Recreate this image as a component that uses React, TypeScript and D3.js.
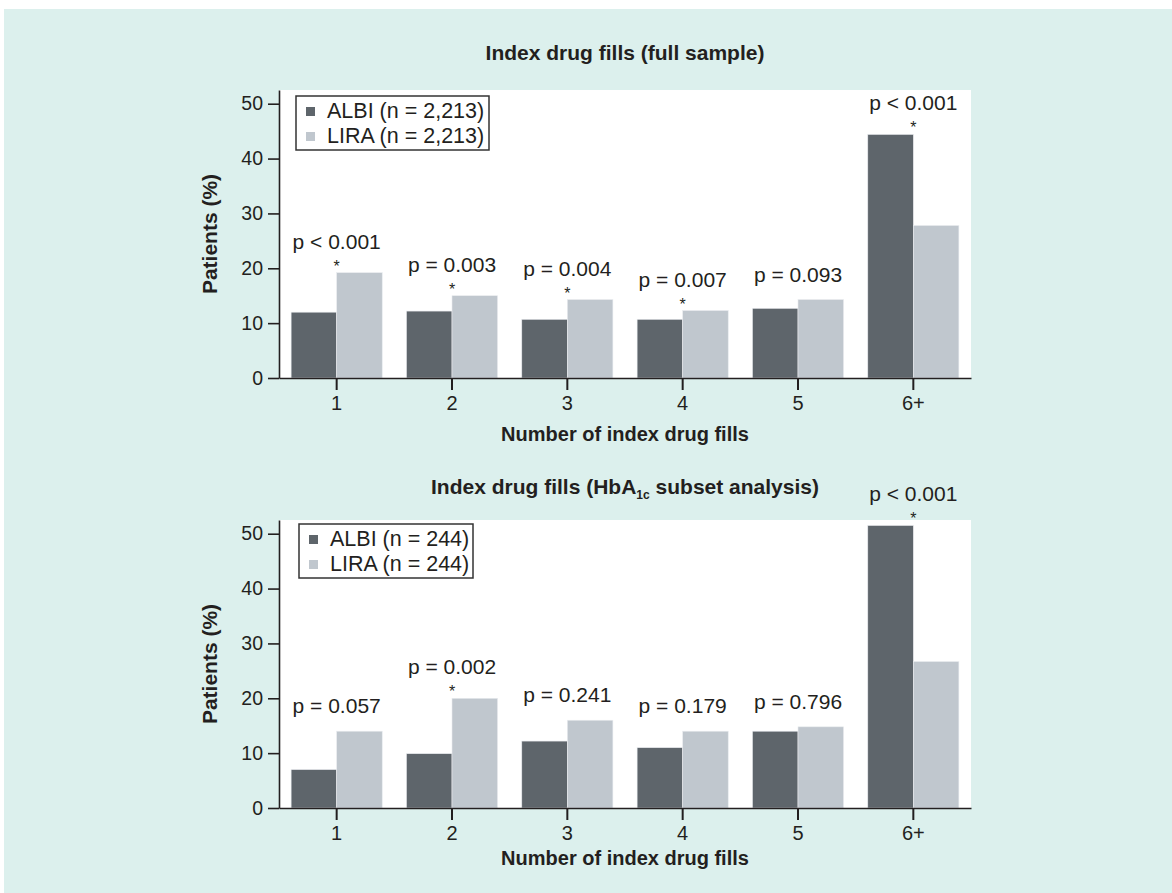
import React, { useEffect, useRef } from 'react';
import * as d3 from 'd3';

const categories = ['1', '2', '3', '4', '5', '6+'];
const seriesNames = ['ALBI', 'LIRA'];

const fullAlbi = [12.0, 12.2, 10.7, 10.7, 12.7, 44.4];
const fullLira = [19.2, 15.0, 14.3, 12.3, 14.3, 27.8];
const fullPValues = ['p < 0.001', 'p = 0.003', 'p = 0.004', 'p = 0.007', 'p = 0.093', 'p < 0.001'];
const fullSignificant = [true, true, true, true, false, true];
const fullLegend = ['ALBI (n = 2,213)', 'LIRA (n = 2,213)'];

const subsetAlbi = [7.0, 9.9, 12.2, 11.0, 14.0, 51.5];
const subsetLira = [14.0, 20.0, 16.0, 14.0, 14.8, 26.7];
const subsetPValues = ['p = 0.057', 'p = 0.002', 'p = 0.241', 'p = 0.179', 'p = 0.796', 'p < 0.001'];
const subsetSignificant = [false, true, false, false, false, true];
const subsetLegend = ['ALBI (n = 244)', 'LIRA (n = 244)'];

const yTicks = [0, 10, 20, 30, 40, 50];

const FONT = '"Liberation Sans", Arial, Helvetica, sans-serif';
const INK = '#231f20';
const COLORS = ['#5e656b', '#c0c7ce'];

interface Panel {
  albi: number[];
  lira: number[];
  pValues: string[];
  significant: boolean[];
  legend: string[];
  top: number;
  bottom: number;
  titleY: number;
  xTitleY: number;
  legendBox: { x: number; y: number; w: number; h: number };
  subset: boolean;
}

const App: React.FC = () => {
  const svgRef = useRef<SVGSVGElement>(null);

  useEffect(() => {
    if (!svgRef.current) return;
    const svg = d3.select(svgRef.current);
    svg.selectAll('*').remove();

    svg.append('rect')
      .attr('x', 4).attr('y', 9)
      .attr('width', 1168).attr('height', 884)
      .attr('fill', '#dcf0ed');

    const left = 279;
    const right = 971;

    const drawPanel = (p: Panel) => {
      const g = svg.append('g').attr('font-family', FONT).attr('fill', INK);

      g.append('rect')
        .attr('x', left).attr('y', p.top)
        .attr('width', right - left).attr('height', p.bottom - p.top)
        .attr('fill', '#fff');

      const x = d3.scaleBand<string>()
        .domain(categories)
        .range([left, right])
        .paddingInner(0.21)
        .paddingOuter(0.105);

      const xSub = d3.scaleBand<string>()
        .domain(seriesNames)
        .range([0, x.bandwidth()]);

      const y = d3.scaleLinear()
        .domain([0, 52.5])
        .range([p.bottom, p.top]);

      const rows = categories.map((c, i) => ({ c, i, values: [p.albi[i], p.lira[i]] }));

      // bars
      rows.forEach(r => {
        r.values.forEach((v, k) => {
          g.append('rect')
            .attr('x', (x(r.c) as number) + (xSub(seriesNames[k]) as number))
            .attr('y', y(v))
            .attr('width', xSub.bandwidth())
            .attr('height', y(0) - y(v))
            .attr('fill', COLORS[k])
            .attr('stroke', '#e9ecef')
            .attr('stroke-width', 0.6);
        });
      });

      // p-values and asterisks
      rows.forEach(r => {
        const cx = (x(r.c) as number) + x.bandwidth() / 2;
        const barTop = y(d3.max(r.values) as number);
        const sig = p.significant[r.i];
        g.append('text')
          .attr('x', cx)
          .attr('y', barTop - (sig ? 24 : 18))
          .attr('text-anchor', 'middle')
          .attr('font-size', 21)
          .text(p.pValues[r.i]);
        if (sig) {
          g.append('text')
            .attr('x', cx)
            .attr('y', barTop - 1)
            .attr('text-anchor', 'middle')
            .attr('font-size', 16)
            .text('*');
        }
      });

      // axes
      const xAxis = g.append('g')
        .attr('transform', `translate(0,${p.bottom})`)
        .call(d3.axisBottom(x).tickSize(12).tickSizeOuter(0).tickPadding(6));
      xAxis.select('.domain').attr('stroke', INK).attr('stroke-width', 1.6);
      xAxis.selectAll('.tick line').attr('stroke', INK).attr('stroke-width', 2);
      xAxis.selectAll('.tick text')
        .attr('font-family', FONT).attr('font-size', 20).attr('fill', INK);

      const yAxis = g.append('g')
        .attr('transform', `translate(${left},0)`)
        .call(d3.axisLeft(y).tickValues(yTicks).tickSize(11).tickSizeOuter(0).tickPadding(5));
      yAxis.select('.domain').attr('stroke', INK).attr('stroke-width', 1.6);
      yAxis.selectAll('.tick line').attr('stroke', INK).attr('stroke-width', 1.6);
      yAxis.selectAll('.tick text')
        .attr('font-family', FONT).attr('font-size', 19.5).attr('fill', INK);

      // titles
      const cxPlot = (left + right) / 2;
      const title = g.append('text')
        .attr('x', cxPlot).attr('y', p.titleY)
        .attr('text-anchor', 'middle')
        .attr('font-size', 21).attr('font-weight', 'bold');
      if (p.subset) {
        title.append('tspan').text('Index drug fills (HbA');
        title.append('tspan').attr('font-size', 12).attr('dy', 5).text('1c');
        title.append('tspan').attr('dy', -5).text(' subset analysis)');
      } else {
        title.text('Index drug fills (full sample)');
      }

      g.append('text')
        .attr('x', cxPlot).attr('y', p.xTitleY)
        .attr('text-anchor', 'middle')
        .attr('font-size', 20).attr('font-weight', 'bold')
        .text('Number of index drug fills');

      g.append('text')
        .attr('transform', `translate(217,${(p.top + p.bottom) / 2}) rotate(-90)`)
        .attr('text-anchor', 'middle')
        .attr('font-size', 21).attr('font-weight', 'bold')
        .text('Patients (%)');

      // legend
      const lb = p.legendBox;
      g.append('rect')
        .attr('x', lb.x).attr('y', lb.y)
        .attr('width', lb.w).attr('height', lb.h)
        .attr('fill', '#fff')
        .attr('stroke', '#333').attr('stroke-width', 1.5);
      p.legend.forEach((label, k) => {
        const rowY = lb.y + 22 + k * 25;
        g.append('rect')
          .attr('x', lb.x + 10).attr('y', rowY - 11)
          .attr('width', 9).attr('height', 9)
          .attr('fill', COLORS[k]);
        g.append('text')
          .attr('x', lb.x + 31).attr('y', rowY)
          .attr('font-size', 21.5)
          .text(label);
      });
    };

    drawPanel({
      albi: fullAlbi, lira: fullLira, pValues: fullPValues, significant: fullSignificant,
      legend: fullLegend, top: 90, bottom: 378, titleY: 60, xTitleY: 441,
      legendBox: { x: 296, y: 96, w: 193, h: 54 }, subset: false,
    });
    drawPanel({
      albi: subsetAlbi, lira: subsetLira, pValues: subsetPValues, significant: subsetSignificant,
      legend: subsetLegend, top: 520, bottom: 808, titleY: 494, xTitleY: 865,
      legendBox: { x: 299, y: 524, w: 174, h: 54 }, subset: true,
    });
  }, []);

  return (
    <svg ref={svgRef} width={1172} height={893}
      style={{ position: 'absolute', left: 0, top: 0, display: 'block', background: '#fff' }} />
  );
};

export default App;
